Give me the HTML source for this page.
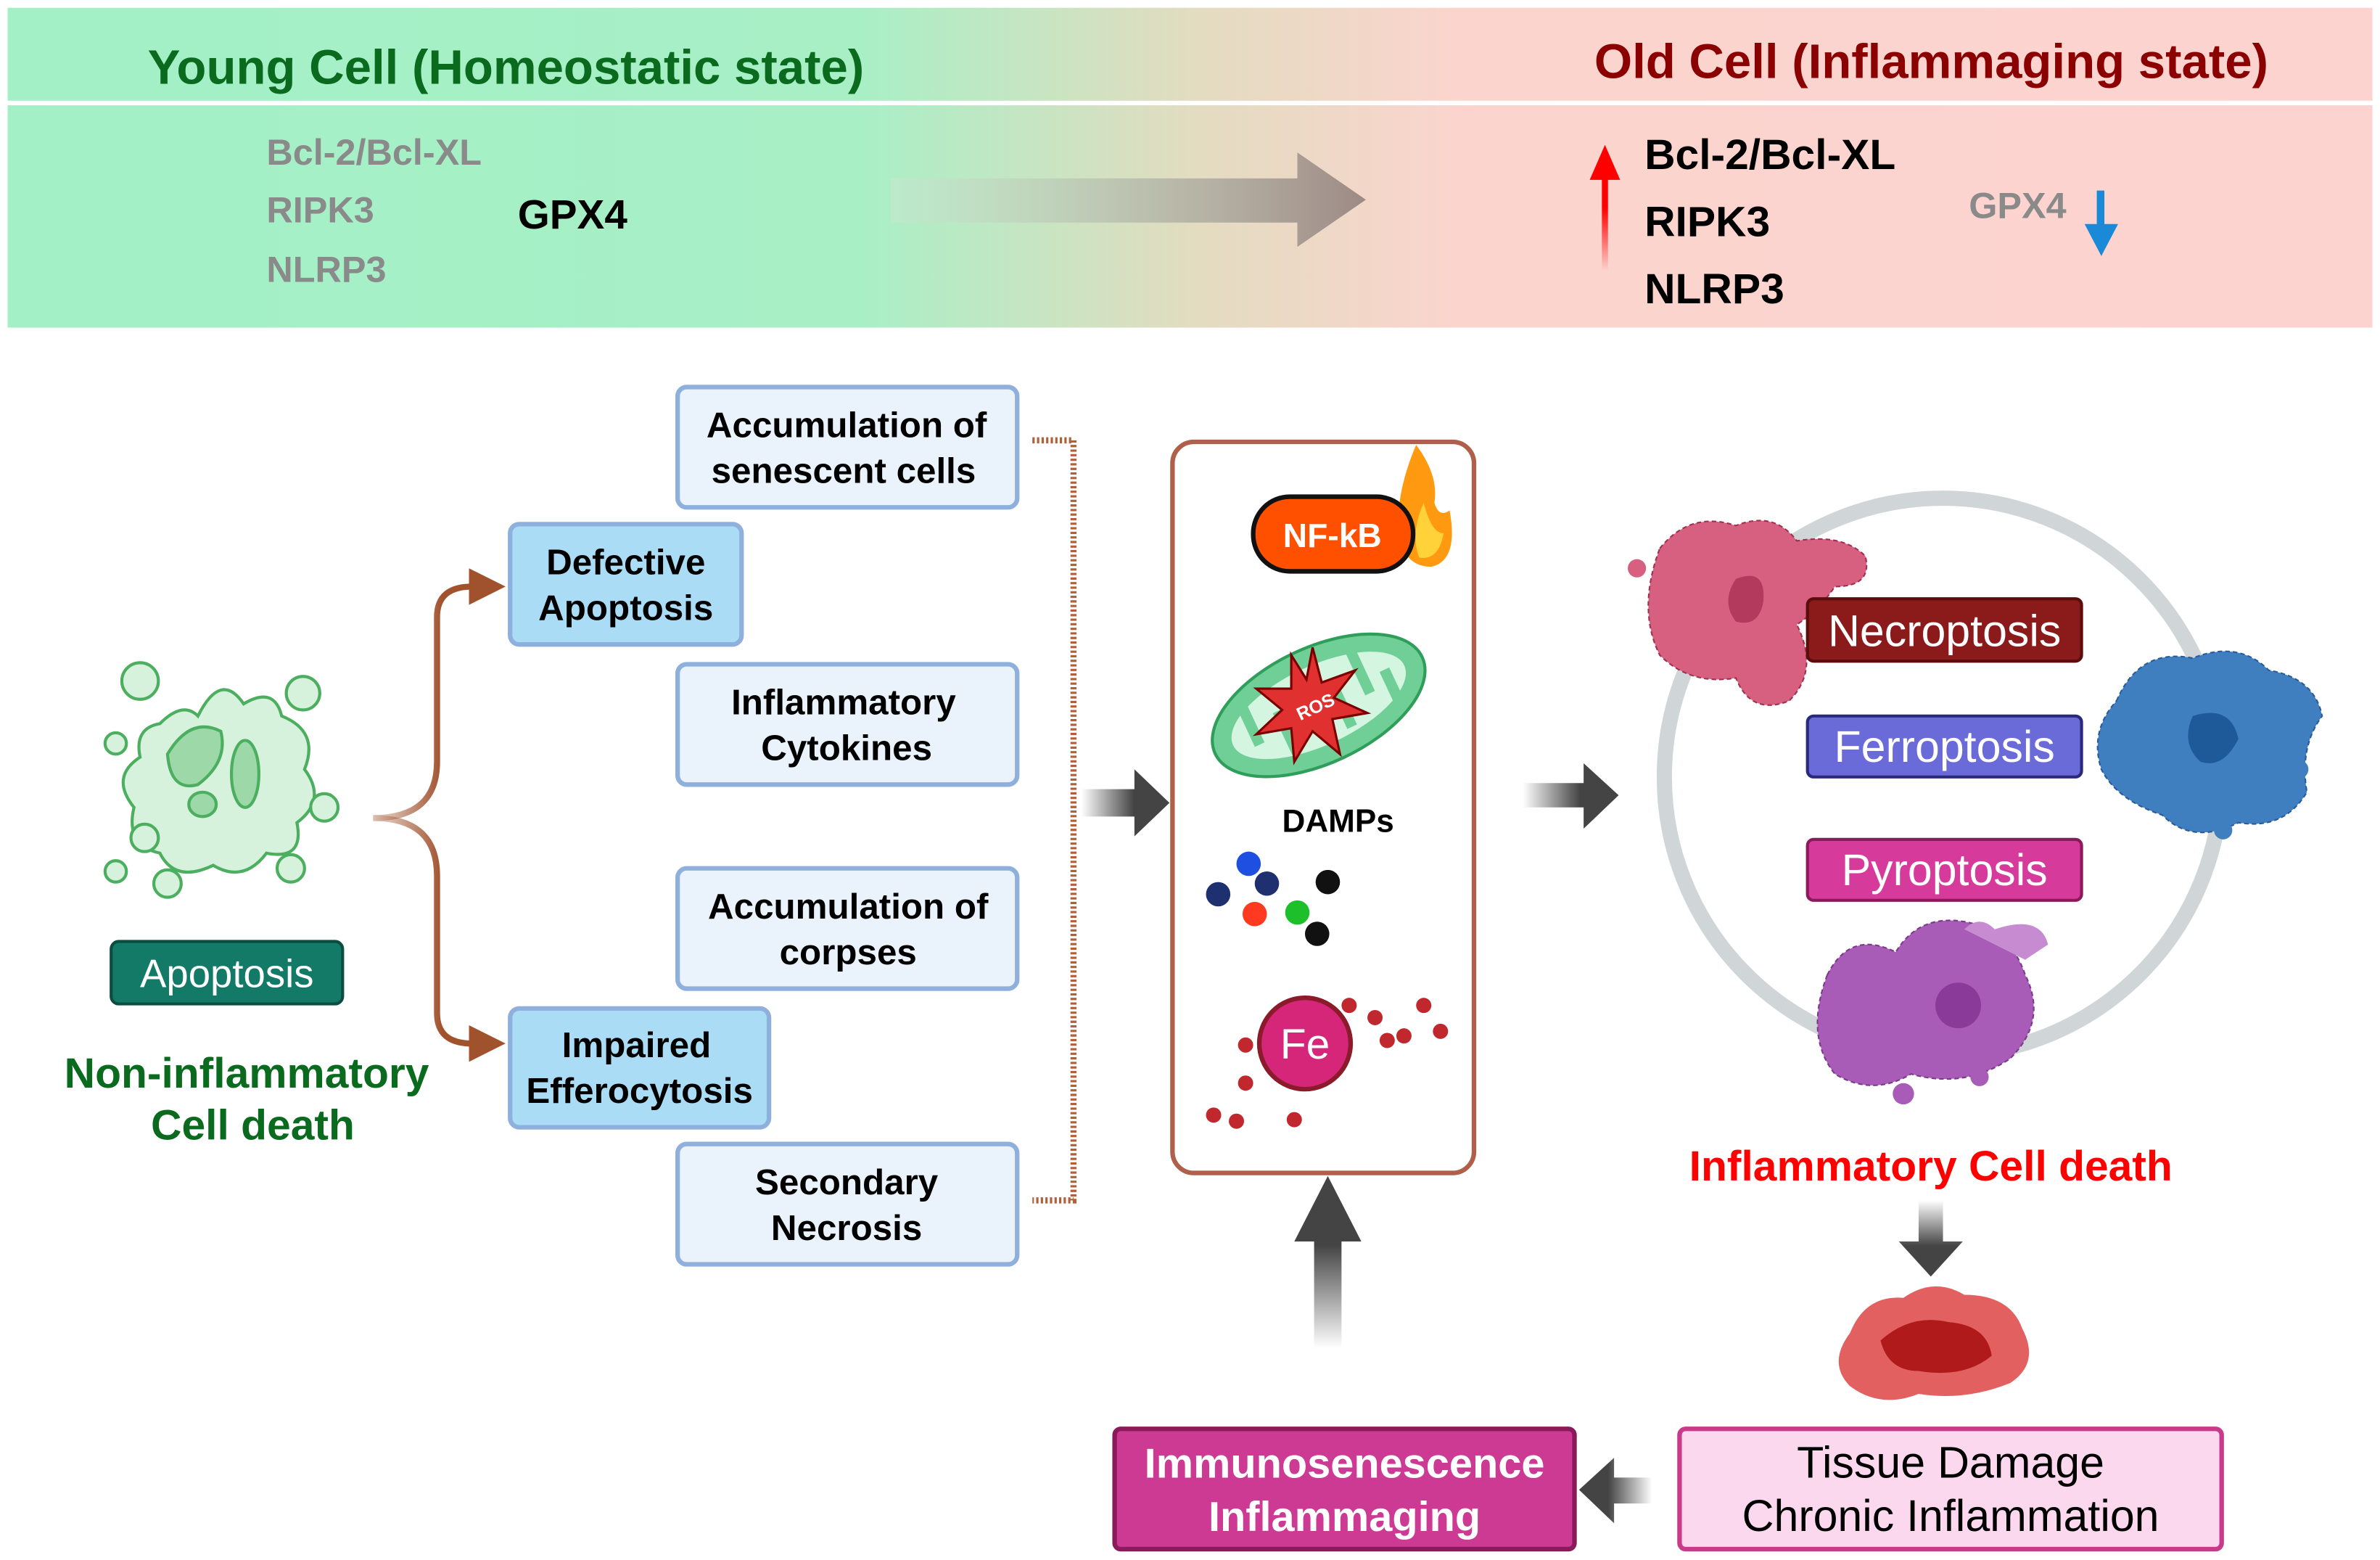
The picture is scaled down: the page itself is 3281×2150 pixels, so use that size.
<!DOCTYPE html>
<html><head><meta charset="utf-8"><style>html,body{margin:0;padding:0;background:#fff}svg{display:block}text{font-family:"Liberation Sans",sans-serif}</style></head>
<body>
<svg width="3281" height="2150" viewBox="0 0 1563 1024" xmlns="http://www.w3.org/2000/svg">
<defs>
<linearGradient id="band" x1="0" x2="1" y1="0" y2="0">
<stop offset="0" stop-color="#a3f0c6"/><stop offset="0.36" stop-color="#a8efc6"/><stop offset="0.5" stop-color="#e2dcc0"/><stop offset="0.62" stop-color="#fcd4ce"/><stop offset="1" stop-color="#fdd3d0"/></linearGradient>
<linearGradient id="bigarr" x1="0" x2="1"><stop offset="0" stop-color="#c9e8cf" stop-opacity="0.5"/><stop offset="1" stop-color="#9d8a85"/></linearGradient>
<linearGradient id="darkR" x1="0" x2="1"><stop offset="0" stop-color="#444" stop-opacity="0"/><stop offset="0.6" stop-color="#444"/></linearGradient>
<linearGradient id="darkL" x1="1" x2="0"><stop offset="0" stop-color="#444" stop-opacity="0"/><stop offset="0.6" stop-color="#444"/></linearGradient>
<linearGradient id="darkU" x1="0" x2="0" y1="1" y2="0"><stop offset="0" stop-color="#444" stop-opacity="0"/><stop offset="0.6" stop-color="#444"/></linearGradient>
<linearGradient id="darkD" x1="0" x2="0" y1="0" y2="1"><stop offset="0" stop-color="#444" stop-opacity="0"/><stop offset="0.6" stop-color="#444"/></linearGradient>
<linearGradient id="redU" x1="0" x2="0" y1="1" y2="0"><stop offset="0" stop-color="#f00" stop-opacity="0"/><stop offset="0.5" stop-color="#f00"/></linearGradient>
<linearGradient id="brown" x1="0" x2="1"><stop offset="0" stop-color="#a0522d" stop-opacity="0.2"/><stop offset="0.7" stop-color="#a0522d"/></linearGradient>
</defs>
<rect x="5" y="5" width="1553" height="210" fill="url(#band)"/>
<rect x="5" y="66" width="1553" height="3" fill="#fff"/>
<text x="97" y="55" font-size="32" font-weight="bold" fill="#0a6b1e">Young Cell (Homeostatic state)</text>
<text x="1047" y="51" font-size="32" font-weight="bold" fill="#8b0000">Old Cell (Inflammaging state)</text>
<g font-size="24" font-weight="bold" fill="#8a8a8a">
<text x="175" y="108">Bcl-2/Bcl-XL</text><text x="175" y="146">RIPK3</text><text x="175" y="185">NLRP3</text>
<text x="1293" y="143">GPX4</text></g>
<text x="340" y="150" font-size="27" font-weight="bold">GPX4</text>
<path d="M585 117 H852 V100 L897 131 L852 162 V146 H585 Z" fill="url(#bigarr)"/>
<g font-size="28" font-weight="bold"><text x="1080" y="111">Bcl-2/Bcl-XL</text><text x="1080" y="155">RIPK3</text><text x="1080" y="199">NLRP3</text></g>
<path d="M1052 178 V118 H1044 L1054 95 L1064 118 H1056 V178 Z" fill="url(#redU)"/>
<path d="M1377 125 h5 v22 h9 l-11 21 l-11 -21 h8 Z" fill="#1a8ad8"/>
<g fill="#d6f2dd" stroke="#4cae5f" stroke-width="2">
<path d="M105 475 Q120 460 130 470 Q145 440 160 462 Q180 450 185 470 Q210 480 200 505 Q215 525 195 540 Q200 565 175 560 Q160 580 140 568 Q115 580 105 560 Q82 555 88 530 Q72 510 92 497 Q88 478 105 475Z"/>
<circle cx="92" cy="447" r="12"/><circle cx="199" cy="455" r="11"/><circle cx="76" cy="488" r="7"/><circle cx="213" cy="530" r="9"/><circle cx="95" cy="550" r="9"/><circle cx="76" cy="572" r="7"/><circle cx="110" cy="580" r="9"/><circle cx="191" cy="570" r="9"/>
<path d="M110 495 Q125 470 145 480 Q150 500 130 515 Q112 520 110 495Z" fill="#9dd8a9"/>
<ellipse cx="161" cy="508" rx="9" ry="22" fill="#9dd8a9"/>
<ellipse cx="133" cy="528" rx="9" ry="8" fill="#9dd8a9"/></g>
<rect x="73" y="618" width="152" height="41" rx="5" fill="#137a68" stroke="#0b4d40" stroke-width="2"/>
<text x="149" y="648" font-size="26" fill="#fff" text-anchor="middle">Apoptosis</text>
<g font-size="28" font-weight="bold" fill="#0a6b1e" text-anchor="middle"><text x="162" y="714">Non-inflammatory</text><text x="166" y="748">Cell death</text></g>
<path d="M245 537 Q287 537 287 500 V405 Q287 385 310 385" fill="none" stroke="url(#brown)" stroke-width="4"/>
<path d="M245 537 Q287 537 287 575 V665 Q287 685 310 685" fill="none" stroke="url(#brown)" stroke-width="4"/>
<path d="M308 373 L332 385 L308 397Z M308 673 L332 685 L308 697Z" fill="#a0522d"/>
<g stroke="#8fb0dc" stroke-width="3">
<rect x="445" y="254" width="223" height="79" rx="6" fill="#eaf3fc"/>
<rect x="445" y="436" width="223" height="79" rx="6" fill="#eaf3fc"/>
<rect x="445" y="570" width="223" height="79" rx="6" fill="#eaf3fc"/>
<rect x="445" y="751" width="223" height="79" rx="6" fill="#eaf3fc"/>
<rect x="335" y="344" width="152" height="79" rx="6" fill="#abdcf5"/>
<rect x="335" y="662" width="170" height="78" rx="6" fill="#abdcf5"/></g>
<g font-size="23.5" font-weight="bold" text-anchor="middle">
<text x="556" y="287">Accumulation of</text><text x="554" y="317">senescent cells</text>
<text x="554" y="469">Inflammatory</text><text x="556" y="499">Cytokines</text>
<text x="557" y="603">Accumulation of</text><text x="557" y="633">corpses</text>
<text x="556" y="784">Secondary</text><text x="556" y="814">Necrosis</text>
<text x="411" y="377">Defective</text><text x="411" y="407">Apoptosis</text>
<text x="418" y="694">Impaired</text><text x="420" y="724">Efferocytosis</text></g>
<path d="M678 289 H705 V788 H678" fill="none" stroke="#b0603a" stroke-width="4" stroke-dasharray="1.5 1.5"/>
<path d="M710 518 H745 V505 L768 527 L745 549 V536 H710Z" fill="url(#darkR)"/>
<path d="M1000 514 H1040 V501 L1063 522 L1040 544 V530 H1000Z" fill="url(#darkR)"/>
<path d="M863 885 V815 H850 L872 772 L894 815 H881 V885Z" fill="url(#darkU)"/>
<path d="M1260 788 V815 H1247 L1268 838 L1289 815 H1276 V788Z" fill="url(#darkD)"/>
<path d="M1085 970 H1060 V957 L1037 978 L1060 1000 V987 H1085Z" fill="url(#darkL)"/>
<rect x="770" y="290" width="198" height="480" rx="14" fill="#fff" stroke="#b0604a" stroke-width="3"/>
<path d="M930 292 Q918 320 918 345 Q920 372 940 372 Q958 368 952 335 Q945 340 942 330 Q945 312 930 292Z" fill="#ff9a10"/>
<path d="M935 330 Q926 350 932 366 Q945 368 948 350 Q940 350 935 330Z" fill="#ffd23a"/>
<rect x="823" y="326" width="105" height="49" rx="24" fill="#ff5000" stroke="#111" stroke-width="3"/>
<text x="875" y="359" font-size="22" font-weight="bold" fill="#fff" text-anchor="middle">NF-kB</text>
<g transform="rotate(-25 866 463)"><ellipse cx="866" cy="463" rx="75" ry="38" fill="#6fcf97" stroke="#2f9e5a" stroke-width="2"/><ellipse cx="866" cy="463" rx="62" ry="26" fill="#d4f5e0"/>
<path d="M820 440 v30 M840 485 v-30 M860 440 v30 M880 485 v-30 M900 440 v30 M915 485 v-25" stroke="#6fcf97" stroke-width="7"/></g>
<path d="M862 425 L868 448 L890 440 L876 458 L898 468 L875 472 L880 495 L862 480 L850 500 L848 478 L825 482 L842 466 L825 452 L848 452 L848 430 L858 446Z" fill="#e03030" stroke="#7a0000" stroke-width="1.5"/>
<text x="864" y="468" font-size="12" font-weight="bold" fill="#fff" text-anchor="middle" transform="rotate(-25 864 464)">ROS</text>
<text x="842" y="546" font-size="21" font-weight="bold">DAMPs</text>
<circle cx="820" cy="567" r="8" fill="#1e4fe0"/><circle cx="800" cy="587" r="8" fill="#1e3070"/><circle cx="832" cy="580" r="8" fill="#1e3070"/><circle cx="872" cy="579" r="8" fill="#111"/><circle cx="824" cy="600" r="8" fill="#ff3a20"/><circle cx="852" cy="599" r="8" fill="#1dbf2a"/><circle cx="865" cy="613" r="8" fill="#111"/>
<g fill="#c0282e"><circle cx="818" cy="686" r="5"/><circle cx="818" cy="711" r="5"/><circle cx="797" cy="732" r="5"/><circle cx="812" cy="736" r="5"/><circle cx="850" cy="735" r="5"/><circle cx="886" cy="660" r="5"/><circle cx="903" cy="668" r="5"/><circle cx="911" cy="683" r="5"/><circle cx="922" cy="680" r="5"/><circle cx="935" cy="660" r="5"/><circle cx="946" cy="677" r="5"/></g>
<circle cx="857" cy="685" r="30" fill="#d6267a" stroke="#8b1a2a" stroke-width="3"/>
<text x="857" y="695" font-size="28" fill="#fff" text-anchor="middle">Fe</text>
<circle cx="1276" cy="510" r="183" fill="none" stroke="#d0d5d7" stroke-width="10"/>
<path d="M1090 360 Q1110 335 1140 345 Q1165 335 1180 355 Q1210 350 1225 365 Q1230 385 1205 385 Q1195 400 1180 410 Q1195 440 1175 460 Q1150 470 1140 445 Q1110 450 1090 430 Q1075 400 1090 360Z" fill="#d75f80" stroke="#a03050" stroke-width="1" stroke-dasharray="3 2"/>
<path d="M1140 380 Q1160 372 1158 395 Q1155 412 1140 408 Q1130 395 1140 380Z" fill="#b33a5c"/>
<circle cx="1075" cy="373" r="6" fill="#d75f80"/>
<path d="M1390 460 Q1405 425 1440 432 Q1470 420 1490 440 Q1520 445 1525 470 Q1510 490 1515 520 Q1500 545 1470 540 Q1440 555 1420 535 Q1390 525 1380 505 Q1372 480 1390 460Z" fill="#3f7fc0" stroke="#2a5a9a" stroke-width="1" stroke-dasharray="3 2"/>
<path d="M1440 470 Q1465 462 1470 485 Q1460 505 1445 500 Q1432 488 1440 470Z" fill="#1e5a9a"/>
<circle cx="1425" cy="445" r="8" fill="#3f7fc0"/><circle cx="1510" cy="505" r="6" fill="#3f7fc0"/><circle cx="1460" cy="545" r="6" fill="#3f7fc0"/>
<path d="M1200 640 Q1215 610 1245 625 Q1260 600 1290 605 Q1320 610 1330 640 Q1345 670 1320 695 Q1290 715 1255 705 Q1230 720 1205 705 Q1185 680 1200 640Z" fill="#a85cb8" stroke="#7a3a8a" stroke-width="1" stroke-dasharray="3 2"/>
<circle cx="1286" cy="660" r="15" fill="#8a3a98"/>
<path d="M1290 610 Q1300 600 1310 610 Q1340 600 1345 620 L1330 630Z" fill="#c78bd2"/>
<circle cx="1217" cy="632" r="6" fill="#a85cb8"/><circle cx="1250" cy="718" r="7" fill="#a85cb8"/><circle cx="1300" cy="707" r="6" fill="#a85cb8"/>
<rect x="1187" y="393" width="180" height="41" rx="4" fill="#8b1a1a" stroke="#5a0d0d" stroke-width="2"/>
<rect x="1187" y="470" width="180" height="40" rx="4" fill="#6a6ad8" stroke="#2a2a7a" stroke-width="2"/>
<rect x="1187" y="551" width="180" height="40" rx="4" fill="#d63a9a" stroke="#8b1a5a" stroke-width="2"/>
<g font-size="29" fill="#fff" text-anchor="middle"><text x="1277" y="424">Necroptosis</text><text x="1277" y="500">Ferroptosis</text><text x="1277" y="581">Pyroptosis</text></g>
<text x="1268" y="775" font-size="28" font-weight="bold" fill="#f00" text-anchor="middle">Inflammatory Cell death</text>
<path d="M1215 875 Q1225 850 1250 852 Q1270 838 1290 850 Q1320 850 1328 872 Q1340 895 1320 908 Q1290 920 1260 915 Q1235 925 1215 910 Q1200 895 1215 875Z" fill="#e36060"/>
<path d="M1235 880 Q1255 862 1280 868 Q1305 870 1308 890 Q1290 905 1260 900 Q1240 900 1235 880Z" fill="#b01a1a"/>
<rect x="1103" y="938" width="356" height="79" rx="4" fill="#fcd8ee" stroke="#c83a8a" stroke-width="3"/>
<g font-size="29" text-anchor="middle"><text x="1281" y="970">Tissue Damage</text><text x="1281" y="1005">Chronic Inflammation</text></g>
<rect x="732" y="938" width="302" height="79" rx="4" fill="#cc3a94" stroke="#8b1a5a" stroke-width="3"/>
<g font-size="27.5" font-weight="bold" fill="#fff" text-anchor="middle"><text x="883" y="970">Immunosenescence</text><text x="883" y="1005">Inflammaging</text></g>
</svg>
</body></html>
